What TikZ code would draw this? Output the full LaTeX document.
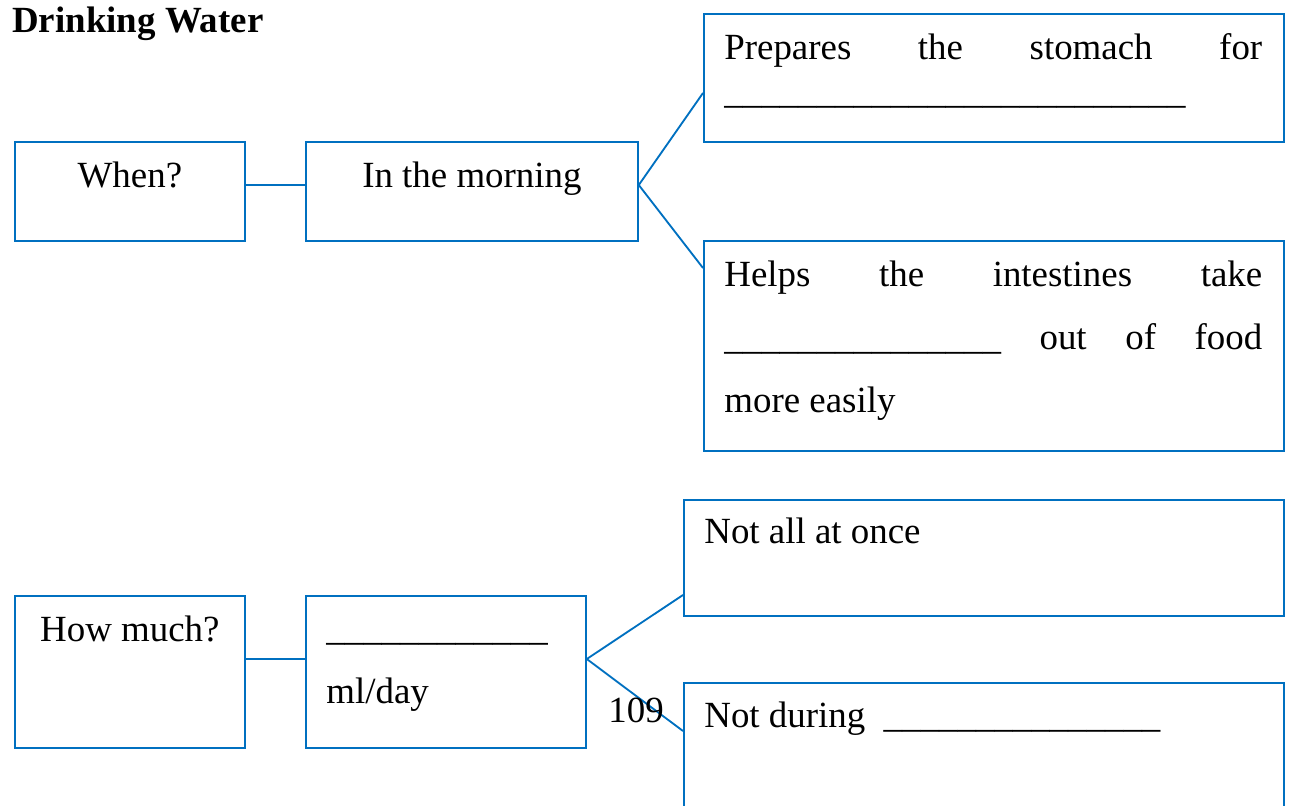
\documentclass[tikz,border=0pt]{standalone}
\usepackage{fontspec}
\setmainfont{Liberation Serif}
\definecolor{lineblue}{RGB}{0,112,192}
\newcommand{\blanks}[1]{\foreach \k in {1,...,#1}{\_}}

\begin{document}
\begin{tikzpicture}[x=0.02cm, y=-0.02cm,
  box/.style={rectangle, draw=lineblue, line width=1.05pt, anchor=north west, inner sep=0pt},
  txt/.style={inner sep=0pt, anchor=base, font=\fontsize{21}{25}\selectfont},
  link/.style={draw=lineblue, line width=1.05pt}]

\clip (0,0) rectangle (1291,805);

\draw (12,32) node (title) [txt, anchor=base west, font=\fontsize{21}{25}\selectfont\bfseries] {Drinking Water};

\draw (14,141) node (when) [box, minimum width=4.6cm, minimum height=1.98cm] {};
\draw (when.north |- 0,187) node (whentxt) [txt] {When?};
\draw (305,141) node (morning) [box, minimum width=6.64cm, minimum height=1.98cm] {};
\draw (morning.north |- 0,187) node (morningtxt) [txt] {In the morning};

\draw (703,13) node (prep) [box, minimum width=11.6cm, minimum height=2.56cm] {};
\draw (724,59) node (preptxt) [txt, anchor=base west, text width=10.76cm, align=justify, font=\fontsize{21}{25.2}\selectfont] {Prepares the stomach for\linebreak \blanks{25}};

\draw (703,240) node (helps) [box, minimum width=11.6cm, minimum height=4.2cm] {};
\draw (724,286) node (helpstxt) [txt, anchor=base west, text width=10.76cm, align=justify, font=\fontsize{21}{36.1}\selectfont] {Helps the intestines take\linebreak \blanks{15} out of food\linebreak more easily};

\draw [link] (when.east |- 0,185) -- (morning.west |- 0,185);
\coordinate (morningtip) at (morning.east |- 0,185);
\draw [link] (prep.west |- 0,93) -- (morningtip) -- (helps.west |- 0,268);


\draw (14,595) node (howmuch) [box, minimum width=4.6cm, minimum height=3.04cm] {};
\draw (howmuch.north |- 0,641) node (howmuchtxt) [txt] {How much?};
\draw (305,595) node (amount) [box, minimum width=5.6cm, minimum height=3.04cm] {};
\draw (326,640) node (amounttxt) [txt, anchor=base west, text width=5cm, align=left, font=\fontsize{21}{36.3}\selectfont] {\blanks{12}\\ ml/day};

\draw (683,499) node (notall) [box, minimum width=12cm, minimum height=2.32cm] {};
\draw (704,543) node (notalltxt) [txt, anchor=base west] {Not all at once};
\draw (683,682) node (notduring) [box, minimum width=12cm, minimum height=3cm] {};
\draw (704,727) node (notduringtxt) [txt, anchor=base west] {Not during\ \ \blanks{15}};

\draw [link] (howmuch.east |- 0,659) -- (amount.west |- 0,659);
\coordinate (amounttip) at (amount.east |- 0,659);
\draw [link] (notall.west |- 0,595) -- (amounttip) -- (notduring.west |- 0,731);

\draw (608,722) node (pagenum) [txt, anchor=base west] {109};

\end{tikzpicture}
\end{document}
